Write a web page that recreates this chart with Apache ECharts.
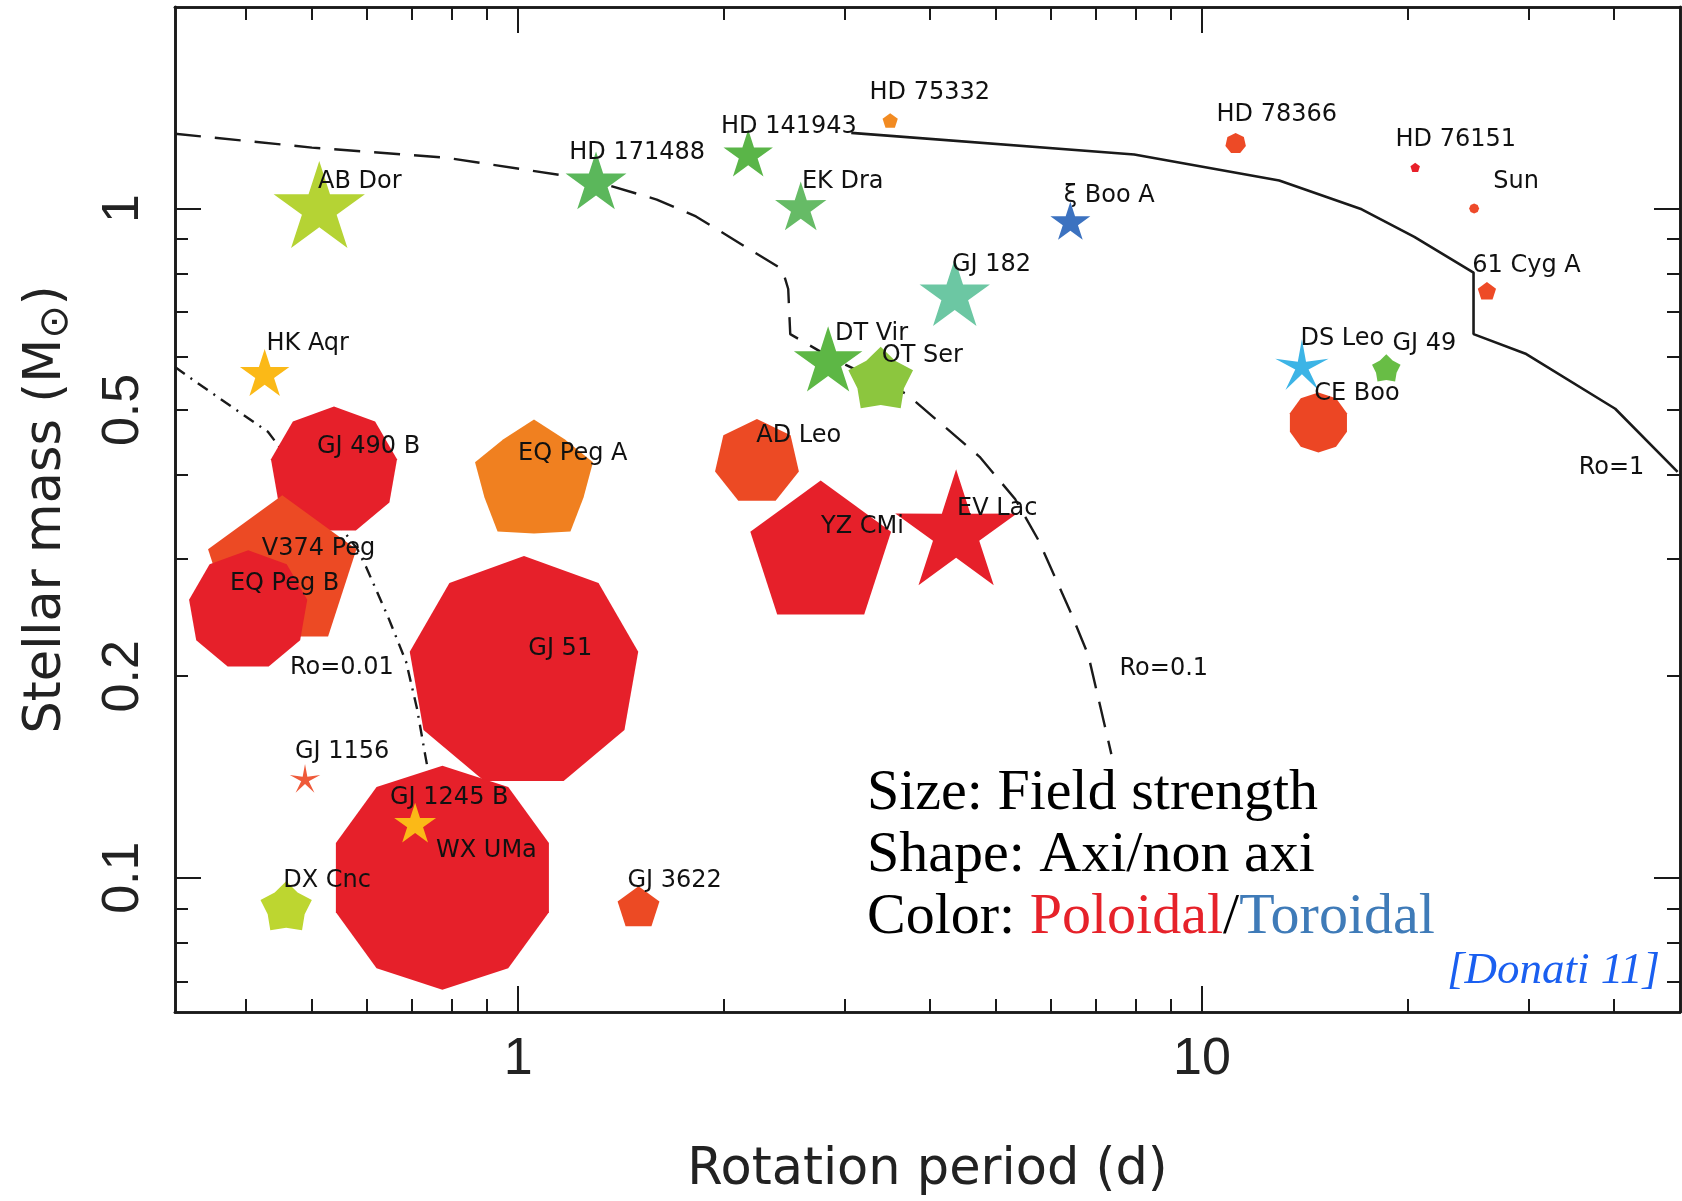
<!DOCTYPE html>
<html>
<head>
<meta charset="utf-8">
<script src="https://cdn.jsdelivr.net/npm/echarts@6/dist/echarts.min.js"></script>
<style>
html,body{margin:0;padding:0;background:#ffffff;}
#chart{width:1682px;height:1201px;}
</style>
</head>
<body>
<div id="chart"></div>
<script>
// ---------------- DATA ----------------
const starNames = ['GJ 490 B','V374 Peg','EQ Peg B','AB Dor','HD 171488','HD 141943','EK Dra','HD 75332','HD 78366','HD 76151','Sun','61 Cyg A','ξ Boo A','GJ 182','DT Vir','OT Ser','DS Leo','GJ 49','CE Boo','HK Aqr','EQ Peg A','AD Leo','YZ CMi','EV Lac','GJ 51','WX UMa','GJ 1245 B','GJ 1156','DX Cnc','GJ 3622'];
// rotation period (d)
const periods = [0.538,0.452,0.403,0.512,1.30,2.17,2.59,3.50,11.2,20.5,25.0,26.1,6.42,4.35,2.84,3.39,14.0,18.6,14.8,0.426,1.055,2.235,2.77,4.37,1.02,0.775,0.707,0.488,0.458,1.50];
// stellar mass (Msun)
const masses = [0.406,0.285,0.251,0.998,1.09,1.20,1.00,1.35,1.25,1.15,1.00,0.751,0.952,0.740,0.589,0.553,0.579,0.575,0.479,0.564,0.391,0.418,0.304,0.327,0.203,0.100,0.120,0.140,0.090,0.090];
// relative field strength (drives symbol size)
const fieldStrength = [64,78,60,48,32,26,27,8,10.5,5,5,9.6,21,37,36,34,28,15,30,26,62,43,74,64,116,112,22,16,27,22];
// field geometry: degree of axisymmetry (drives symbol shape)
const geometry = ['poly9','pent','poly9','star','star','star','star','pent','poly7','pent','poly8','pent','star','star','star','fatstar','thinstar','fatstar','poly10','star','broadstar','poly7','pent','star','poly9','poly10','star','thinstar','fatstar','pent'];
// label anchor positions (period, mass) of each name
const labelPeriods = [0.508,0.422,0.379,0.510,1.188,1.98,2.60,3.265,10.50,19.19,26.67,24.85,6.28,4.31,2.906,3.402,13.93,18.99,14.59,0.4286,1.0,2.23,2.773,4.383,1.035,0.7586,0.6497,0.4718,0.4535,1.445];
const labelMasses = [0.440,0.310,0.275,1.098,1.211,1.324,1.098,1.487,1.381,1.267,1.098,0.820,1.043,0.825,0.649,0.6025,0.638,0.627,0.528,0.627,0.430,0.458,0.334,0.356,0.220,0.1098,0.1316,0.1544,0.0989,0.0989];

// Rossby number curves
const ro001Periods = [0.315,0.338,0.4307,0.5813,0.599,0.645,0.686,0.7115,0.731,0.751];
const ro001Masses  = [0.5795,0.5505,0.4637,0.3103,0.2917,0.2457,0.210,0.179,0.153,0.1316];
const ro01Periods = [0.315,0.4995,0.785,1.27,1.595,1.82,2.434,2.483,2.50,2.87,3.70,4.73,5.33,5.77,6.44,6.82,7.20,7.37];
const ro01Masses  = [1.293,1.233,1.191,1.105,1.031,0.973,0.811,0.758,0.649,0.598,0.528,0.4255,0.368,0.319,0.248,0.215,0.1696,0.153];
const ro1Periods = [3.07,7.96,12.97,17.12,20.44,24.95,24.95,29.8,40.2,49.6];
const ro1Masses  = [1.297,1.204,1.101,0.997,0.907,0.802,0.649,0.606,0.502,0.404];
const roLabelTexts = ['Ro=0.01','Ro=0.1','Ro=1'];
const roLabelPeriods = [0.4638,7.575,35.55];
const roLabelMasses = [0.2056,0.2049,0.4099];

// axes
const X_MIN = 0.315, X_MAX = 50;
const Y_MIN = 0.063, Y_MAX = 2.0;
const xLabelValues = [1, 10];
const xMajorTicks = [1, 10];
const xMinorTicks = [0.4,0.5,0.6,0.7,0.8,0.9,2,3,4,5,6,7,8,9,20,30,40];
const yLabelValues = [0.1, 0.2, 0.5, 1];
const yMajorTicks = [0.1, 1];
const yMinorTicks = [0.07,0.08,0.09,0.2,0.3,0.4,0.5,0.6,0.7,0.8,0.9];

// ---------------- STYLE ----------------
const markerColors = ['#e6202a','#ec4a24','#e6202a','#b5d334','#5bb75b','#5ab548','#66bb66','#f28b22','#ed4a26','#e8202a','#ee4a2a','#ee4a26','#3c72c0','#6cc7a3','#5db745','#8cc63e','#3cb4e6','#68bd45','#ec4624','#fbb917','#f08020','#ec4a24','#e6202a','#e6202a','#e6202a','#e6202a','#fbb917','#ef5a3a','#bdd630','#ec4a24'];
const SIZE_SCALE = 1;
const SHAPES = {
  star: {n:5, inner:0.38}, thinstar: {n:5, inner:0.25}, fatstar: {n:5, inner:0.72}, broadstar: {n:5, inner:0.84},
  pent: {n:5}, poly7: {n:7}, poly8: {n:8}, poly9: {n:9}, poly10: {n:10}, poly11: {n:11}
};
function shapePoints(cx, cy, r, code) {
  const s = SHAPES[code];
  const pts = [];
  if (s.inner) {
    for (let k = 0; k < 2 * s.n; k++) {
      const a = -Math.PI / 2 + k * Math.PI / s.n;
      const rr = (k % 2) ? r * s.inner : r;
      pts.push([cx + rr * Math.cos(a), cy + rr * Math.sin(a)]);
    }
  } else {
    for (let k = 0; k < s.n; k++) {
      const a = -Math.PI / 2 + k * 2 * Math.PI / s.n;
      pts.push([cx + r * Math.cos(a), cy + r * Math.sin(a)]);
    }
  }
  return pts;
}
const INK = '#1a1a1a';
const zip = (a, b) => a.map((v, i) => [v, b[i]]);
const fmt = v => String(+(+v).toPrecision(6));

function xAxisDef(pos, ticks, len, withLabels) {
  const ax = {
    type: 'log', logBase: 10, min: X_MIN, max: X_MAX, position: pos, gridIndex: 0,
    axisLine: {show: true, onZero: false, lineStyle: {color: INK, width: 2.6}},
    axisTick: {show: true, inside: true, length: len, customValues: ticks, lineStyle: {color: INK, width: 2}},
    axisLabel: {show: false},
    splitLine: {show: false}, minorTick: {show: false}, minorSplitLine: {show: false}
  };
  if (withLabels) {
    ax.axisLabel = {show: true, customValues: xLabelValues, margin: 22, formatter: fmt,
      fontFamily: 'Liberation Sans', fontSize: 52, color: '#222'};
    ax.name = 'Rotation period (d)';
    ax.nameLocation = 'middle';
    ax.nameGap = 133;
    ax.nameTextStyle = {fontFamily: 'DejaVu Sans', fontSize: 51, color: '#222'};
  }
  return ax;
}
function yAxisDef(pos, ticks, len, withLabels) {
  const ax = {
    type: 'log', logBase: 10, min: Y_MIN, max: Y_MAX, position: pos, gridIndex: 0,
    axisLine: {show: true, onZero: false, lineStyle: {color: INK, width: 2.6}},
    axisTick: {show: true, inside: true, length: len, customValues: ticks, lineStyle: {color: INK, width: 2}},
    axisLabel: {show: false},
    splitLine: {show: false}, minorTick: {show: false}, minorSplitLine: {show: false}
  };
  if (withLabels) {
    ax.axisLabel = {show: true, customValues: yLabelValues, margin: 25, rotate: 90, formatter: fmt,
      fontFamily: 'Liberation Sans', fontSize: 52, color: '#222'};
    ax.name = '{a|Stellar mass (M}{s|⊙}{a|)}';
    ax.nameLocation = 'middle';
    ax.nameGap = 98;
    ax.nameRotate = 90;
    ax.nameTextStyle = {
      rich: {
        a: {fontFamily: 'DejaVu Sans', fontSize: 51, color: '#222', lineHeight: 60},
        s: {fontFamily: 'DejaVu Sans', fontSize: 40, color: '#222', verticalAlign: 'bottom'}
      }
    };
  }
  return ax;
}

const markerData = periods.map((p, i) => [p, masses[i], fieldStrength[i]]);
const labelData = labelPeriods.map((p, i) => [p, labelMasses[i]]);
const allLabelTexts = starNames.concat(roLabelTexts);
const allLabelData = labelData.concat(zip(roLabelPeriods, roLabelMasses));

const lineCommon = {type: 'line', xAxisIndex: 0, yAxisIndex: 0, showSymbol: false, symbol: 'none',
  silent: true, z: 1, smooth: false};

const option = {
  backgroundColor: '#ffffff',
  animation: false,
  grid: {left: 175, top: 7, width: 1505, height: 1008, containLabel: false},
  xAxis: [
    xAxisDef('bottom', xMajorTicks, 26, true),
    xAxisDef('bottom', xMinorTicks, 13, false),
    xAxisDef('top', xMajorTicks, 26, false),
    xAxisDef('top', xMinorTicks, 13, false)
  ],
  yAxis: [
    yAxisDef('left', yMajorTicks, 26, true),
    yAxisDef('left', yMinorTicks, 13, false),
    yAxisDef('right', yMajorTicks, 26, false),
    yAxisDef('right', yMinorTicks, 13, false)
  ],
  series: [
    Object.assign({}, lineCommon, {name: 'Ro=0.01', data: zip(ro001Periods, ro001Masses),
      lineStyle: {color: INK, width: 2.4, type: [12, 7, 2, 7]}}),
    Object.assign({}, lineCommon, {name: 'Ro=0.1', data: zip(ro01Periods, ro01Masses),
      lineStyle: {color: INK, width: 2.4, type: [26, 14]}}),
    Object.assign({}, lineCommon, {name: 'Ro=1', data: zip(ro1Periods, ro1Masses),
      lineStyle: {color: INK, width: 2.6, type: 'solid'}}),
    {
      type: 'custom', name: 'stars', xAxisIndex: 0, yAxisIndex: 0, z: 2, silent: true,
      data: markerData, encode: {x: 0, y: 1},
      renderItem: function (params, api) {
        const i = params.dataIndex;
        const c = api.coord([api.value(0), api.value(1)]);
        const r = api.value(2) * SIZE_SCALE;
        return {type: 'polygon', shape: {points: shapePoints(c[0], c[1], r, geometry[i])},
          style: {fill: markerColors[i]}};
      }
    },
    {
      type: 'custom', name: 'labels', xAxisIndex: 0, yAxisIndex: 0, z: 5, silent: true,
      data: allLabelData, encode: {x: 0, y: 1},
      renderItem: function (params, api) {
        const c = api.coord([api.value(0), api.value(1)]);
        return {type: 'text', x: c[0], y: c[1],
          style: {text: allLabelTexts[params.dataIndex], fill: '#111',
            font: '24px "DejaVu Sans"', align: 'left', verticalAlign: 'middle'}};
      }
    }
  ],
  graphic: [
    {type: 'text', x: 867, y: 794, z: 10, style: {text: 'Size: Field strength', fill: '#000',
      font: '58px "Liberation Serif"', align: 'left', verticalAlign: 'middle'}},
    {type: 'text', x: 867, y: 856, z: 10, style: {text: 'Shape: Axi/non axi', fill: '#000',
      font: '58px "Liberation Serif"', align: 'left', verticalAlign: 'middle'}},
    {type: 'text', x: 867, y: 918, z: 10, style: {
      text: '{k|Color: }{p|Poloidal}{k|/}{t|Toroidal}', align: 'left', verticalAlign: 'middle',
      rich: {
        k: {fontFamily: 'Liberation Serif', fontSize: 58, fill: '#000'},
        p: {fontFamily: 'Liberation Serif', fontSize: 58, fill: '#e6222a'},
        t: {fontFamily: 'Liberation Serif', fontSize: 58, fill: '#3f7bb8'}
      }}},
    {type: 'text', x: 1660, y: 971, z: 10, style: {text: '[Donati 11]', fill: '#1a5ff0',
      font: 'italic 45px "Liberation Serif"', align: 'right', verticalAlign: 'middle'}}
  ]
};

const chart = echarts.init(document.getElementById('chart'), null, {renderer: 'canvas', width: 1682, height: 1201});
chart.setOption(option);
</script>
</body>
</html>
